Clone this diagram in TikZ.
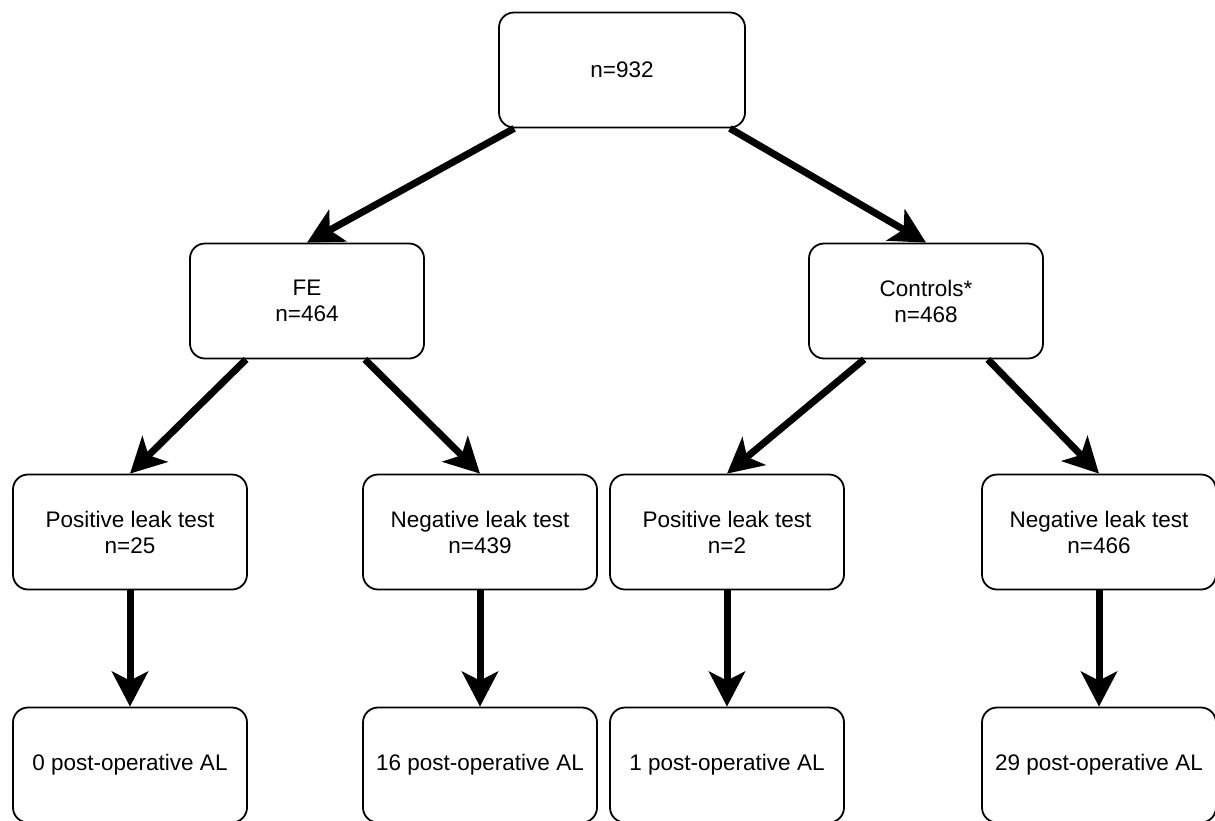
\documentclass[tikz,border=0pt]{standalone}
\usepackage{fontspec}
\setmainfont{Liberation Sans}
\usetikzlibrary{arrows.meta}

\begin{document}
\begin{tikzpicture}[x=1pt,y=-1pt,
			boxnode/.style={draw=black, line width=1.8pt, rounded corners=15pt, fill=white, minimum width=234pt, minimum height=115pt, align=center, font=\fontsize{22.5}{26}\selectfont},
			arrowline/.style={line width=7pt, -{Stealth[length=35pt, width=36pt, inset=9pt]}},
			]
			\useasboundingbox (0,0) rectangle (1215,820);
			%Nodes
			\node[boxnode, minimum width=246pt]      (all)      at 	(622,70)        {n=932};
			\node[boxnode]      (fe)      at 	(307,301)		{FE\\n=464};
			\node[boxnode]      (ctrl)      at 	(926,301)		{Controls*\\n=468};
			\node[boxnode]      (fepos)      at 	(130,532)		{Positive leak test\\n=25};
			\node[boxnode]      (feneg)      at 	(480,532)		{Negative leak test\\n=439};
			\node[boxnode]      (ctrlpos)      at 	(727,532)		{Positive leak test\\n=2};
			\node[boxnode]      (ctrlneg)      at 	(1099,532)		{Negative leak test\\n=466};
			\node[boxnode]      (feposal)      at 	(130,765)		{0 post-operative AL};
			\node[boxnode]      (fenegal)      at 	(480,765)		{16 post-operative AL};
			\node[boxnode]      (ctrlposal)      at 	(727,765)		{1 post-operative AL};
			\node[boxnode]      (ctrlnegal)      at 	(1099,765)		{29 post-operative AL};

			%Lines
			\draw[arrowline] ([xshift=16pt]all.south west) -- (fe.north);
			\draw[arrowline] ([xshift=-16pt]all.south east) -- (ctrl.north);
			\draw[arrowline] ([xshift=57pt]fe.south west) -- (fepos.north);
			\draw[arrowline] ([xshift=-60pt]fe.south east) -- (feneg.north);
			\draw[arrowline] ([xshift=56pt]ctrl.south west) -- (ctrlpos.north);
			\draw[arrowline] ([xshift=-56pt]ctrl.south east) -- (ctrlneg.north);
			\draw[arrowline] (fepos) -- (feposal);
			\draw[arrowline] (feneg) -- (fenegal);
			\draw[arrowline] (ctrlpos) -- (ctrlposal);
			\draw[arrowline] (ctrlneg) -- (ctrlnegal);
		\end{tikzpicture}
\end{document}
